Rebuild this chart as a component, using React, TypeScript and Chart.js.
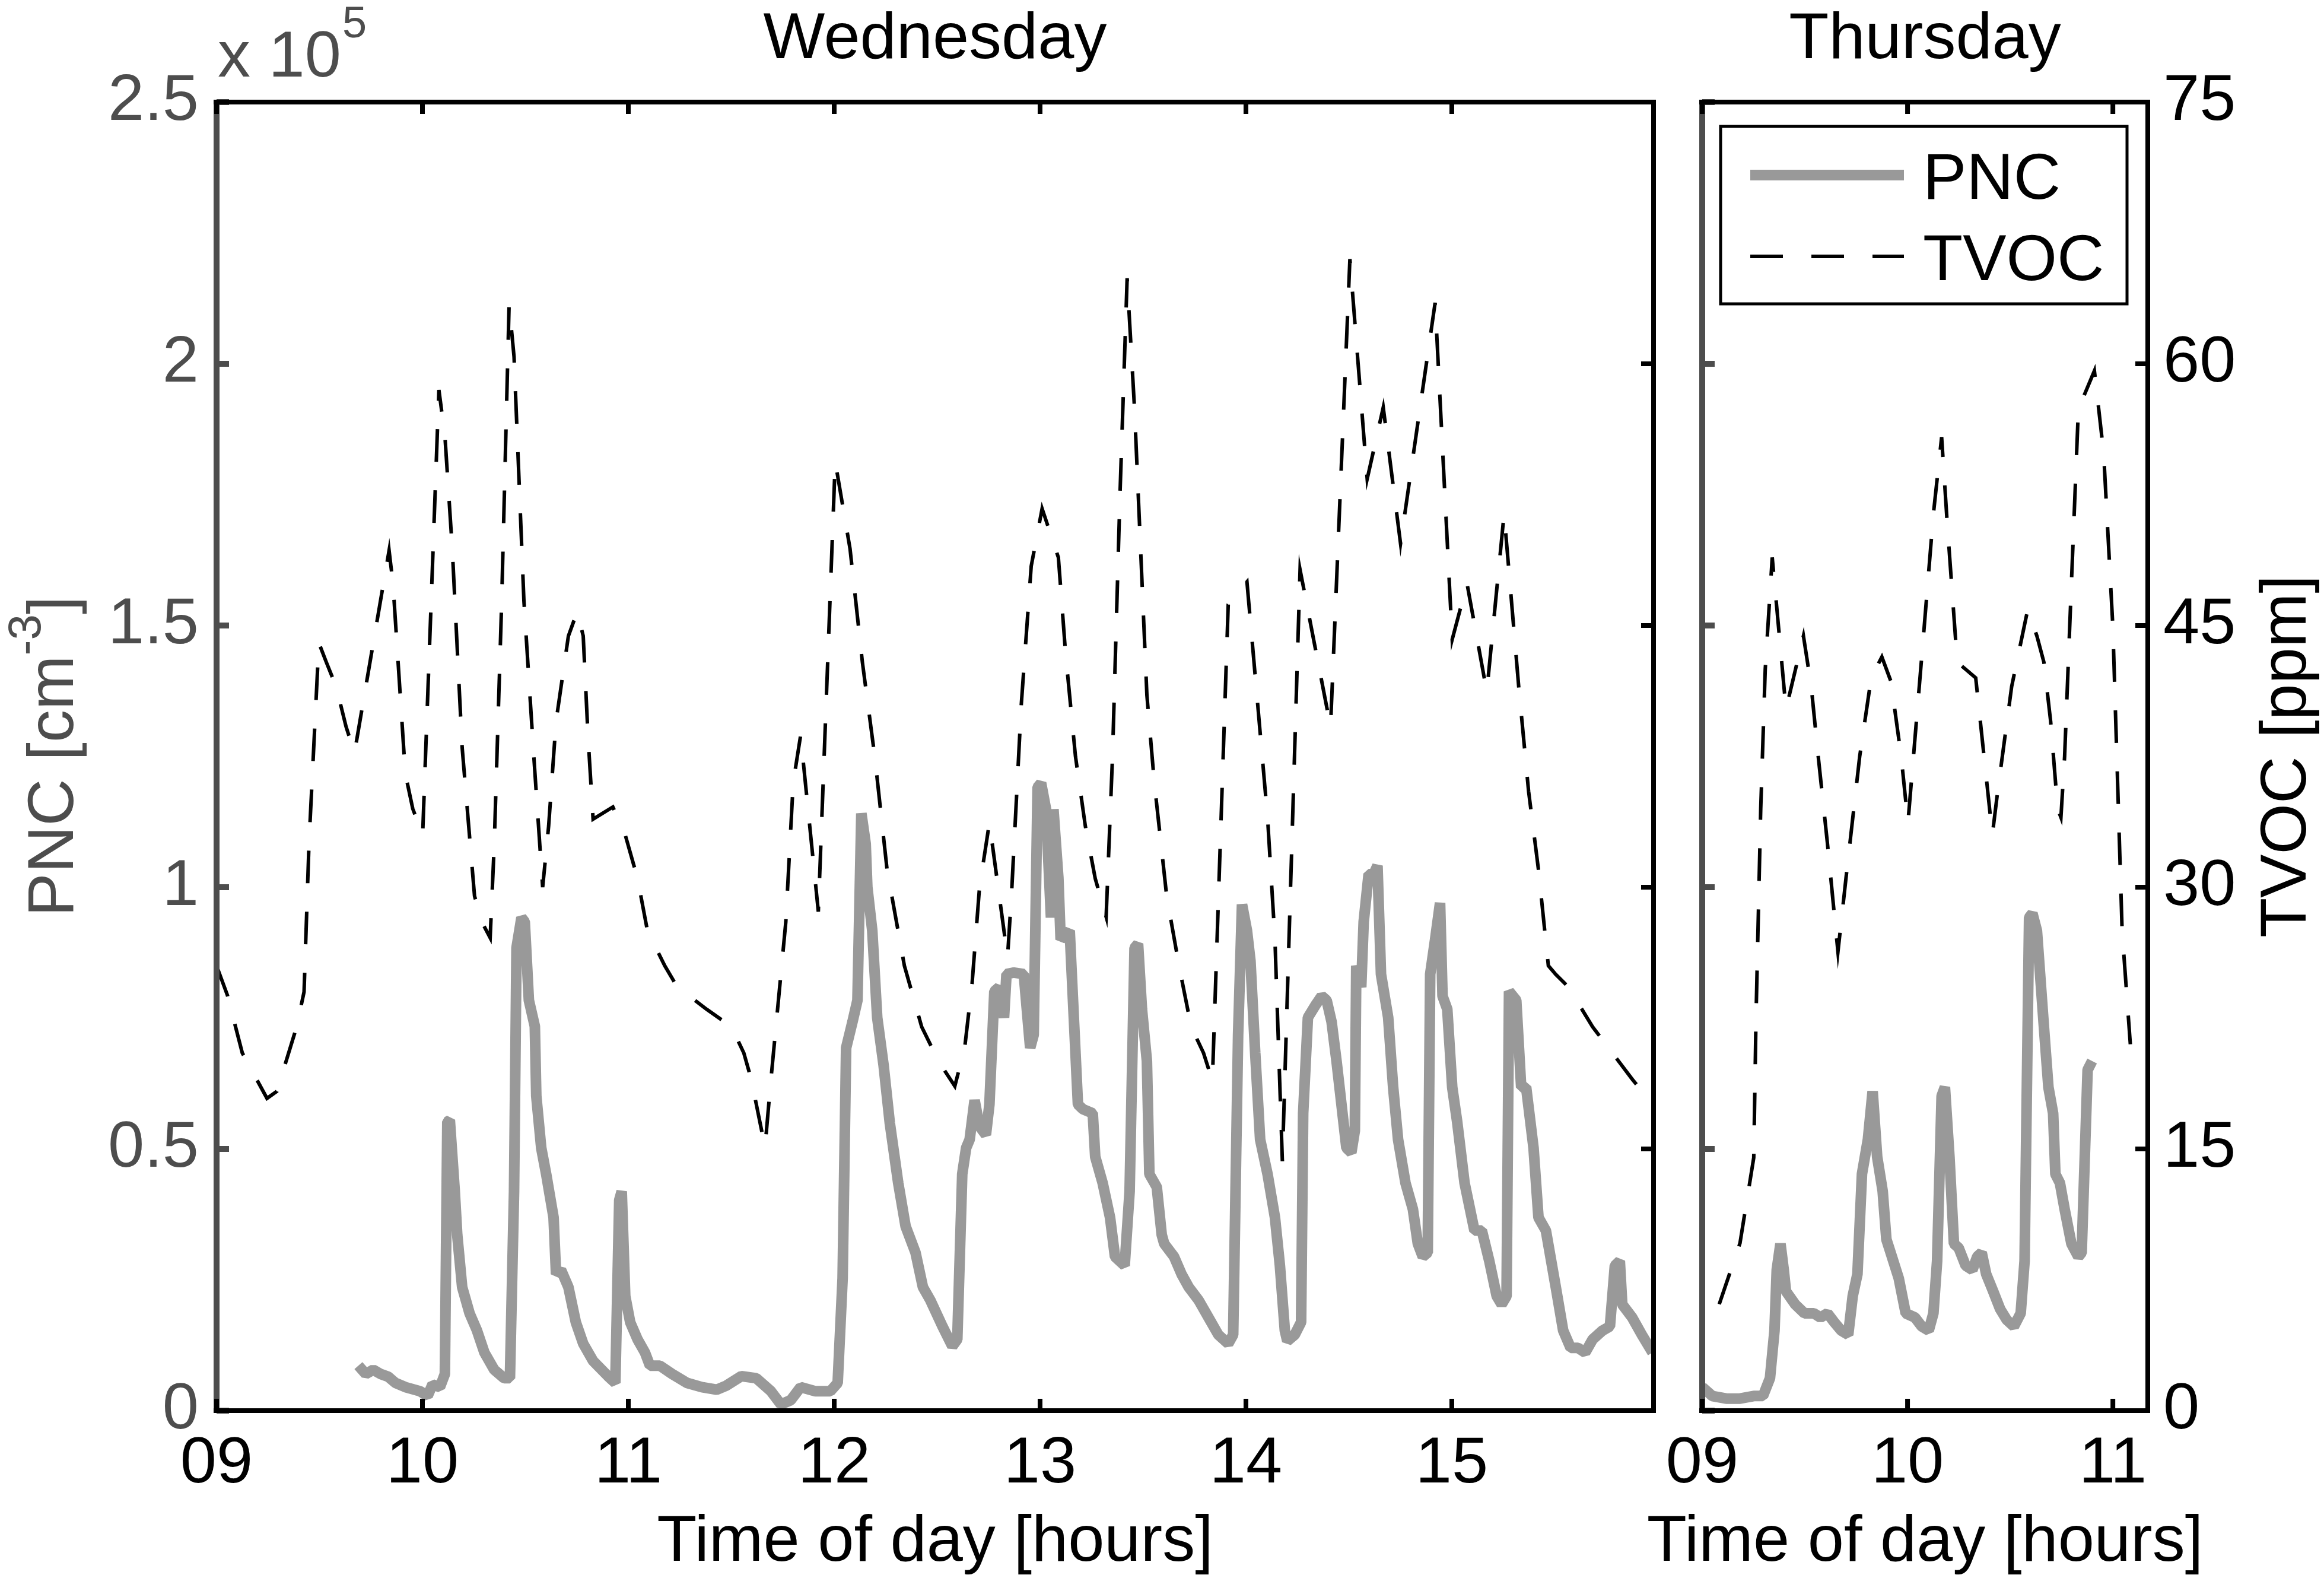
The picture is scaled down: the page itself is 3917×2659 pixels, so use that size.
import { useEffect, useRef } from "react"
import { Chart, registerables } from "chart.js"

Chart.register(...registerables)

const W = 3917
const H = 2659
const FONT = '"Liberation Sans", Arial, Helvetica, sans-serif'
const AXIS_GRAY = "#4d4d4d"
const PNC_GRAY = "#999999"

// tick values
const wedHourTicks = [9, 10, 11, 12, 13, 14, 15]
const thuHourTicks = [9, 10, 11]
const pncTicks = [0, 50000, 100000, 150000, 200000, 250000]
const tvocTicks = [0, 15, 30, 45, 60, 75]

// Wednesday - PNC [cm^-3]
const wedPncHours = [
  9.689, 9.725, 9.761, 9.797, 9.833, 9.869, 9.917, 9.989, 10.025, 10.049, 10.085, 10.109, 10.121, 10.133, 10.157,
  10.169, 10.193, 10.229, 10.265, 10.301, 10.349, 10.397, 10.425, 10.445, 10.457, 10.481, 10.497, 10.517, 10.546,
  10.553, 10.577, 10.601, 10.637, 10.649, 10.673, 10.709, 10.745, 10.781, 10.829, 10.901, 10.937, 10.956, 10.968,
  10.985, 11.009, 11.045, 11.081, 11.105, 11.153, 11.213, 11.285, 11.357, 11.429, 11.477, 11.549, 11.621, 11.693,
  11.741, 11.789, 11.837, 11.909, 11.981, 12.017, 12.041, 12.058, 12.089, 12.113, 12.132, 12.153, 12.161, 12.185,
  12.209, 12.24, 12.27, 12.311, 12.347, 12.395, 12.431, 12.467, 12.526, 12.574, 12.598, 12.622, 12.641, 12.658,
  12.682, 12.706, 12.737, 12.754, 12.778, 12.801, 12.825, 12.837, 12.873, 12.921, 12.952, 12.969, 12.988, 13.005,
  13.029, 13.053, 13.065, 13.089, 13.1, 13.144, 13.16, 13.184, 13.208, 13.256, 13.268, 13.304, 13.34, 13.364,
  13.411, 13.435, 13.459, 13.476, 13.495, 13.519, 13.531, 13.567, 13.591, 13.603, 13.651, 13.687, 13.722, 13.77,
  13.818, 13.866, 13.914, 13.938, 13.962, 13.981, 14.005, 14.022, 14.045, 14.069, 14.105, 14.141, 14.165, 14.189,
  14.201, 14.237, 14.268, 14.278, 14.301, 14.34, 14.368, 14.392, 14.416, 14.44, 14.464, 14.488, 14.512, 14.529,
  14.536, 14.56, 14.572, 14.596, 14.62, 14.639, 14.656, 14.691, 14.715, 14.739, 14.775, 14.811, 14.835, 14.859,
  14.883, 14.895, 14.919, 14.943, 14.955, 14.978, 15.002, 15.026, 15.062, 15.11, 15.146, 15.182, 15.218, 15.242,
  15.266, 15.278, 15.313, 15.337, 15.361, 15.397, 15.421, 15.457, 15.505, 15.541, 15.577, 15.613, 15.648, 15.684,
  15.732, 15.768, 15.792, 15.816, 15.828, 15.876, 15.923, 15.975,
]
const wedPncValues = [
  8600, 7000, 7800, 7000, 6500, 5300, 4500, 3700, 2800, 5000, 4500, 7000, 55200, 55500, 41900,
  33600, 23600, 18600, 15300, 11100, 7800, 6200, 6200, 41900, 88400, 94200, 93400, 78400, 73400,
  60100, 50200, 45200, 36900, 26100, 26900, 23600, 16900, 12800, 9500, 6600, 5300, 40200, 41900,
  21900, 16900, 13600, 11100, 8600, 8600, 7000, 5300, 4500, 4000, 4800, 6600, 6200, 3700,
  1200, 2000, 4500, 3700, 3700, 5300, 25300, 69300, 74300, 78400, 114100, 108300, 100000, 91700,
  75100, 66000, 55000, 43500, 35200, 30200, 23600, 21100, 16100, 12300, 13600, 45200, 50200, 51800,
  59300, 54300, 52700, 58500, 80100, 80900, 75100, 83400, 83700, 83400, 69300, 71800, 119100, 119900,
  114900, 94200, 114900, 101700, 90000, 91700, 78400, 58500, 57600, 56800, 48500, 43500, 36900, 29400,
  27700, 41900, 88400, 89200, 76700, 66800, 45200, 42700, 33600, 31900, 29400, 26100, 23600, 21100,
  17800, 14500, 12800, 14500, 71800, 96700, 91700, 85900, 68400, 51800, 45200, 36900, 27700, 15300,
  13300, 14500, 16900, 56800, 75100, 77600, 79200, 78400, 74300, 66800, 58500, 50200, 49300, 53500,
  85000, 80900, 93400, 102500, 102500, 104100, 83400, 75100, 61800, 51800, 43500, 38500, 31900, 29400,
  30200, 83400, 90000, 97000, 79200, 76700, 61800, 55200, 43500, 34400, 34400, 28600, 21900, 20300,
  21900, 80100, 78400, 61800, 61800, 50200, 36900, 34400, 23600, 15300, 12000, 12000, 11100, 13600,
  15300, 16100, 27700, 28600, 20300, 17800, 14500, 11100,
]

// Wednesday - TVOC [ppm]
const wedTvocHours = [
  9.0, 9.053, 9.125, 9.245, 9.293, 9.389, 9.425, 9.449, 9.497, 9.533, 9.581, 9.629, 9.67, 9.838, 9.857, 9.917,
  9.953, 10.001, 10.08, 10.109, 10.145, 10.193, 10.253, 10.289, 10.329, 10.349, 10.385, 10.421, 10.445, 10.493,
  10.541, 10.584, 10.613, 10.649, 10.709, 10.752, 10.781, 10.805, 10.829, 10.925, 10.985, 11.045, 11.093, 11.177,
  11.237, 11.381, 11.501, 11.561, 11.597, 11.664, 11.693, 11.729, 11.765, 11.801, 11.837, 11.923, 12.005, 12.077,
  12.137, 12.197, 12.257, 12.341, 12.425, 12.508, 12.586, 12.634, 12.67, 12.706, 12.754, 12.842, 12.861, 12.909,
  12.957, 13.01, 13.089, 13.124, 13.172, 13.22, 13.268, 13.321, 13.352, 13.388, 13.423, 13.459, 13.519, 13.555,
  13.615, 13.675, 13.734, 13.794, 13.837, 13.914, 14.005, 14.057, 14.105, 14.141, 14.177, 14.263, 14.411, 14.505,
  14.589, 14.667, 14.751, 14.919, 15.002, 15.074, 15.17, 15.254, 15.325, 15.373, 15.421, 15.469, 15.505, 15.565,
  15.684, 15.78, 15.876, 15.98,
]
const wedTvocValues = [
  25.5, 23.8, 20.5, 17.9, 18.3, 22.0, 24.0, 32.5, 44.0, 42.9, 41.5, 39.2, 37.7, 49.3, 47.4, 36.5,
  34.5, 33.0, 58.5, 55.9, 49.4, 38.0, 29.5, 28.0, 27.1, 32.5, 46.4, 63.4, 60.4, 46.4,
  37.5, 30.0, 33.5, 39.5, 44.4, 45.8, 44.4, 38.5, 33.9, 34.6, 33.0, 30.5, 27.5, 25.5,
  24.3, 23.0, 22.0, 20.5, 19.0, 15.1, 19.0, 23.5, 28.0, 36.0, 38.7, 28.6, 54.4, 49.4,
  42.9, 37.5, 31.0, 25.5, 22.0, 20.0, 18.6, 20.8, 24.5, 30.0, 33.7, 26.0, 29.5, 40.5,
  48.4, 51.7, 48.9, 43.4, 37.5, 33.5, 30.5, 28.3, 37.5, 52.4, 64.9, 57.4, 41.0, 36.0,
  29.5, 25.5, 22.0, 20.5, 18.9, 46.2, 47.5, 40.5, 34.0, 27.0, 14.3, 48.2, 39.2, 66.0,
  53.4, 57.5, 49.7, 63.5, 44.2, 47.4, 41.2, 51.4, 41.5, 35.5, 31.0, 25.5, 25.0, 24.3,
  22.0, 20.5, 19.0, 17.5,
]

// Thursday - PNC [cm^-3]
const thuPncHours = [
  9.0, 9.049, 9.117, 9.184, 9.251, 9.296, 9.33, 9.352, 9.363, 9.381, 9.397, 9.408, 9.453, 9.498, 9.543, 9.576,
  9.61, 9.643, 9.677, 9.711, 9.733, 9.756, 9.778, 9.807, 9.83, 9.852, 9.879, 9.897, 9.924, 9.957, 9.991, 10.036,
  10.069, 10.103, 10.126, 10.144, 10.166, 10.182, 10.204, 10.226, 10.249, 10.283, 10.316, 10.339, 10.361, 10.383,
  10.417, 10.451, 10.484, 10.518, 10.551, 10.57, 10.592, 10.608, 10.63, 10.664, 10.686, 10.709, 10.72, 10.742,
  10.765, 10.798, 10.832, 10.848, 10.877, 10.899,
]
const thuPncValues = [
  4500, 2800, 2300, 2300, 2800, 2800, 6200, 15300, 26900, 31900, 26900, 22800, 20300, 18600, 18600, 17800,
  18600, 16900, 15300, 14500, 21900, 26100, 45200, 51800, 61000, 48500, 41900, 32700, 29400, 25300, 18600, 17800,
  16100, 15300, 18600, 28600, 60100, 61800, 48500, 31900, 31100, 27700, 26900, 29400, 30200, 26100,
  22800, 19400, 17300, 16100, 18600, 28600, 94200, 95000, 91700, 73400, 61800, 56800, 45200, 43500,
  38500, 31900, 29400, 30200, 65100, 66800,
]

// Thursday - TVOC [ppm]
const thuTvocHours = [
  9.083, 9.184, 9.251, 9.262, 9.285, 9.307, 9.341, 9.408, 9.493, 9.531, 9.565, 9.61, 9.661, 9.7, 9.767, 9.823,
  9.875, 9.919, 9.969, 10.002, 10.036, 10.081, 10.126, 10.166, 10.193, 10.242, 10.332, 10.413, 10.439, 10.507,
  10.585, 10.63, 10.664, 10.697, 10.731, 10.747, 10.765, 10.798, 10.832, 10.91, 10.955, 11.0, 11.045, 11.085,
]
const thuTvocValues = [
  6.1, 9.6, 14.5, 22.5, 34.5, 42.5, 48.9, 40.2, 44.4, 41.5, 37.5, 32.5, 26.3, 30.5, 37.5, 42.0,
  43.2, 41.8, 37.5, 33.7, 38.5, 44.9, 51.4, 55.8, 50.9, 42.9, 42.0, 33.0, 35.5, 41.5,
  45.9, 44.4, 42.9, 39.5, 34.5, 34.0, 37.5, 47.4, 57.4, 59.6, 54.9, 44.9, 27.5, 21.0,
]

const toPoints = (xs: number[], ys: number[]) => xs.map((x, i) => ({ x, y: ys[i] }))

// draws a run of text pieces rotated by -90deg, centred on cy; each piece is [text, size, raise]
function drawRotated(ctx: CanvasRenderingContext2D, pieces: [string, number, number][], bx: number, cy: number) {
  let total = 0
  const widths = pieces.map(([t, size]) => {
    ctx.font = `${size}px ${FONT}`
    const w = ctx.measureText(t).width
    total += w
    return w
  })
  ctx.save()
  ctx.translate(bx, cy)
  ctx.rotate(-Math.PI / 2)
  ctx.textAlign = "left"
  ctx.textBaseline = "alphabetic"
  let u = -total / 2
  pieces.forEach(([t, size, raise], i) => {
    ctx.font = `${size}px ${FONT}`
    ctx.fillText(t, u, -raise)
    u += widths[i]
  })
  ctx.restore()
}

// axes box with inward ticks, like the original figure
const framePlugin = {
  id: "frame",
  afterDatasetsDraw(chart: any, _args: any, opts: any) {
    const { ctx, chartArea, scales } = chart
    const { left, right, top, bottom } = chartArea
    const seg = (x1: number, y1: number, x2: number, y2: number) => {
      ctx.beginPath()
      ctx.moveTo(x1, y1)
      ctx.lineTo(x2, y2)
      ctx.stroke()
    }
    ctx.save()
    ctx.lineCap = "butt"
    ctx.strokeStyle = AXIS_GRAY
    ctx.lineWidth = 10
    seg(left, top, left, bottom)
    pncTicks.forEach((v) => {
      const p = scales.y.getPixelForValue(v)
      seg(left, p, left + 21, p)
    })
    ctx.strokeStyle = "#000"
    ctx.lineWidth = 8
    seg(left - 5, top, right + 4, top)
    seg(right, top, right, bottom + 4)
    seg(left - 5, bottom, right + 4, bottom)
    tvocTicks.forEach((v) => {
      const p = scales.y2.getPixelForValue(v)
      seg(right, p, right - 21, p)
    })
    opts.hours.forEach((h: number) => {
      const p = scales.x.getPixelForValue(h)
      seg(p, top, p, top + 20)
      seg(p, bottom, p, bottom - 20)
    })
    ctx.restore()
  },
}

const textPlugin = {
  id: "texts",
  afterDraw(chart: any, _args: any, opts: any) {
    const { ctx, chartArea } = chart
    const { left, right, top, bottom } = chartArea
    const midX = (left + right) / 2
    const midY = (top + bottom) / 2
    ctx.save()
    ctx.textBaseline = "alphabetic"
    ctx.fillStyle = "#000"
    ctx.font = `110px ${FONT}`
    ctx.textAlign = "center"
    ctx.fillText(opts.title, midX, 98)
    ctx.fillText("Time of day [hours]", midX, bottom + 253)

    if (opts.pncLabel) {
      ctx.fillStyle = AXIS_GRAY
      ctx.textAlign = "left"
      ctx.font = `110px ${FONT}`
      ctx.fillText("x 10", left + 2, 129)
      const w = ctx.measureText("x 10").width
      ctx.font = `74px ${FONT}`
      ctx.fillText("5", left + 4 + w, 63)
      drawRotated(ctx, [["PNC [cm", 110, 0], ["-3", 78, 55], ["]", 110, 0]], left - 242, midY)
    }
    if (opts.tvocLabel) {
      ctx.fillStyle = "#000"
      drawRotated(ctx, [["TVOC [ppm]", 110, 0]], right + 266, midY)
    }
    if (opts.legend) {
      const bx = left + 31
      const by = top + 41
      const bw = right - 35 - bx
      const bh = 299
      ctx.fillStyle = "#fff"
      ctx.fillRect(bx, by, bw, bh)
      ctx.strokeStyle = "#000"
      ctx.lineWidth = 5
      ctx.strokeRect(bx, by, bw, bh)
      const rows = [by + 82, by + 219]
      chart.data.datasets.forEach((ds: any, i: number) => {
        const ry = rows[i]
        ctx.save()
        ctx.strokeStyle = ds.borderColor
        ctx.lineWidth = ds.borderWidth
        ctx.setLineDash(ds.borderDash || [])
        ctx.beginPath()
        ctx.moveTo(bx + 50, ry)
        ctx.lineTo(bx + 309, ry)
        ctx.stroke()
        ctx.restore()
        ctx.fillStyle = "#000"
        ctx.font = `110px ${FONT}`
        ctx.textAlign = "left"
        ctx.fillText(ds.label, bx + 341, ry + 40)
      })
    }
    ctx.restore()
  },
}

function buildConfig(day: "wed" | "thu") {
  const wed = day === "wed"
  const hourTicks = wed ? wedHourTicks : thuHourTicks
  const tickFont = { family: FONT, size: 110 }
  return {
    type: "line",
    data: {
      datasets: [
        {
          label: "PNC",
          data: wed ? toPoints(wedPncHours, wedPncValues) : toPoints(thuPncHours, thuPncValues),
          yAxisID: "y",
          borderColor: PNC_GRAY,
          borderWidth: 18,
          borderJoinStyle: "bevel",
          pointRadius: 0,
          tension: 0,
          order: 2,
        },
        {
          label: "TVOC",
          data: wed ? toPoints(wedTvocHours, wedTvocValues) : toPoints(thuTvocHours, thuTvocValues),
          yAxisID: "y2",
          borderColor: "#000000",
          borderWidth: 6,
          borderDash: [55, 48],
          pointRadius: 0,
          tension: 0,
          order: 1,
        },
      ],
    },
    options: {
      animation: false,
      responsive: false,
      devicePixelRatio: 1,
      events: [],
      layout: {
        padding: wed ? { left: 0, top: 172, right: W - 2787, bottom: 0 } : { left: 2869, top: 172, right: 0, bottom: 0 },
      },
      plugins: {
        legend: { display: false },
        tooltip: { enabled: false },
        frame: { hours: hourTicks },
        texts: {
          title: wed ? "Wednesday" : "Thursday",
          pncLabel: wed,
          tvocLabel: !wed,
          legend: !wed,
        },
      },
      scales: {
        x: {
          type: "linear",
          min: 9,
          max: wed ? 15.98 : 11.17,
          grid: { display: false, drawTicks: false },
          border: { display: false },
          afterBuildTicks: (scale: any) => {
            scale.ticks = hourTicks.map((value) => ({ value }))
          },
          afterFit: (scale: any) => {
            scale.height = 282
          },
          ticks: {
            font: tickFont,
            color: "#000",
            padding: 25,
            autoSkip: false,
            maxRotation: 0,
            callback: (v: number) => String(v).padStart(2, "0"),
          },
        },
        y: {
          type: "linear",
          position: "left",
          display: wed,
          min: 0,
          max: 250000,
          grid: { display: false, drawTicks: false },
          border: { display: false },
          afterBuildTicks: (scale: any) => {
            scale.ticks = pncTicks.map((value) => ({ value }))
          },
          afterFit: (scale: any) => {
            scale.width = wed ? 365 : 0
          },
          ticks: {
            font: tickFont,
            color: AXIS_GRAY,
            padding: 30,
            callback: (v: number) => String(v / 100000),
          },
        },
        y2: {
          type: "linear",
          position: "right",
          display: !wed,
          min: 0,
          max: 75,
          grid: { display: false, drawTicks: false },
          border: { display: false },
          afterBuildTicks: (scale: any) => {
            scale.ticks = tvocTicks.map((value) => ({ value }))
          },
          afterFit: (scale: any) => {
            scale.width = wed ? 0 : W - 3620
          },
          ticks: {
            font: tickFont,
            color: "#000",
            padding: 26,
            callback: (v: number) => String(v),
          },
        },
      },
    },
    plugins: [framePlugin, textPlugin],
  }
}

function DayChart({ day }: { day: "wed" | "thu" }) {
  const canvasRef = useRef<HTMLCanvasElement>(null)

  useEffect(() => {
    if (!canvasRef.current) return
    const chart = new Chart(canvasRef.current, buildConfig(day) as any)
    return () => chart.destroy()
  }, [day])

  return (
    <canvas
      ref={canvasRef}
      width={W}
      height={H}
      style={{ position: "absolute", left: 0, top: 0, width: W, height: H }}
    />
  )
}

export default function App() {
  useEffect(() => {
    document.body.style.margin = "0"
    document.body.style.overflow = "hidden"
  }, [])

  return (
    <div style={{ position: "relative", width: W, height: H, background: "#fff" }}>
      <DayChart day="wed" />
      <DayChart day="thu" />
    </div>
  )
}
